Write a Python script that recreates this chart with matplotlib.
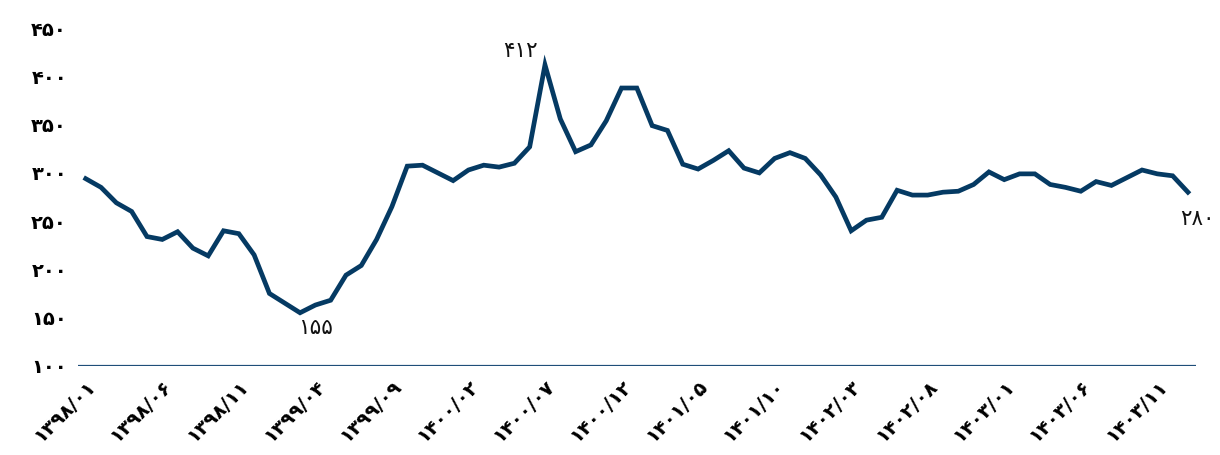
import numpy as np
import matplotlib
matplotlib.use('Agg')
import matplotlib.pyplot as plt

# monthly series, 1398/01 .. 1404/01
values = [294, 285, 269, 260, 234, 231, 239, 222, 214, 240,
          237, 215, 175, 165, 155, 163, 168, 194, 204, 231,
          265, 307, 308, 300, 292, 303, 308, 306, 310, 327,
          412, 356, 322, 329, 354, 388, 388, 349, 344, 309,
          304, 313, 323, 305, 300, 315, 321, 315, 298, 275,
          240, 251, 254, 282, 277, 277, 280, 281, 288, 301,
          293, 299, 299, 288, 285, 281, 291, 287, 295, 303,
          299, 297, 280]

start_year, start_month = 1398, 1
yticks = [100, 150, 200, 250, 300, 350, 400, 450]
tick_step = 5

# points that get a value label: (index, text offset in points, alignment)
labelled = [(30, (-5, 3), 'right', 'bottom'),
            (14, (11, -4), 'center', 'top'),
            (72, (7, -12), 'center', 'top')]

fa_digits = str.maketrans('0123456789', '۰۱۲۳۴۵۶۷۸۹')


def fa(s):
    return str(s).translate(fa_digits)


def month_label(i):
    m = start_month - 1 + i
    return fa('%d/%02d' % (start_year + m // 12, m % 12 + 1))


navy = '#053A63'
plt.rcParams['font.family'] = ['DejaVu Sans']

fig = plt.figure(figsize=(12.2, 4.55), dpi=100)
ax = fig.add_axes([0.064, 0.196, 0.916, 0.742])

x = np.arange(len(values))
ax.plot(x, values, color=navy, lw=3.4, solid_joinstyle='miter', zorder=3)
ax.axhline(100, color='#1F4E79', lw=1.6, zorder=2)

for i, off, ha, va in labelled:
    ax.annotate(fa(values[i]), (x[i], values[i]), xytext=off,
                textcoords='offset points', ha=ha, va=va,
                fontsize=15.5, color='#111111')

ax.set_xlim(-0.5, 72.5)
ax.set_ylim(100, 450)
ax.set_yticks(yticks)
ax.set_yticklabels([fa(v) for v in yticks], fontsize=14, fontweight='bold')

xt = list(range(0, len(values), tick_step))
ax.set_xticks(xt)
ax.set_xticklabels([month_label(i) for i in xt], fontsize=14, fontweight='bold',
                   rotation=45, ha='right', rotation_mode='anchor')

ax.tick_params(length=0, pad=8)
for s in ax.spines.values():
    s.set_visible(False)

fig.savefig('out.png', dpi=100)
